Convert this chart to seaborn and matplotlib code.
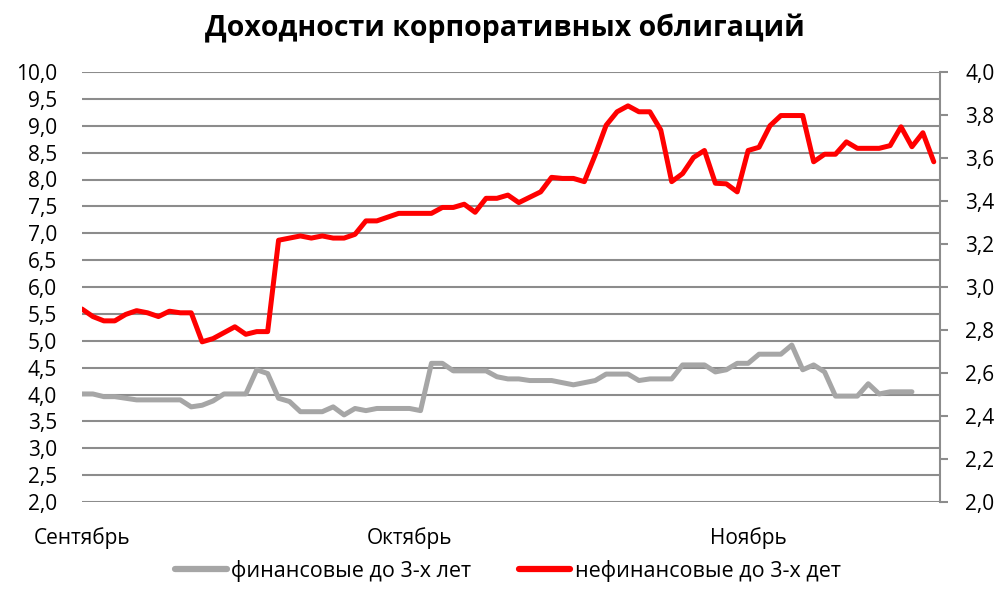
import matplotlib
matplotlib.use("Agg")
import matplotlib.pyplot as plt
import seaborn as sns
import pandas as pd
import numpy as np
from matplotlib.lines import Line2D

# ---- data ----
month_ticks = [0, 30, 61]
month_labels = ["Сентябрь", "Октябрь", "Ноябрь"]

fin_label = "финансовые до 3-х лет"
nonfin_label = "нефинансовые до 3-х дет"

fin_values = [4.01, 4.01, 3.96, 3.96, 3.93, 3.90, 3.90, 3.90, 3.90, 3.90,
              3.77, 3.80, 3.88, 4.01, 4.01, 4.01, 4.46, 4.39, 3.93, 3.87,
              3.68, 3.68, 3.68, 3.77, 3.62, 3.74, 3.70, 3.74, 3.74, 3.74,
              3.74, 3.70, 4.58, 4.58, 4.44, 4.44, 4.44, 4.44, 4.33, 4.29,
              4.29, 4.26, 4.26, 4.26, 4.22, 4.18, 4.22, 4.26, 4.38, 4.38,
              4.38, 4.26, 4.29, 4.29, 4.29, 4.55, 4.55, 4.55, 4.42, 4.46,
              4.58, 4.58, 4.75, 4.75, 4.75, 4.92, 4.46, 4.55, 4.42, 3.97,
              3.97, 3.97, 4.20, 4.01, 4.05, 4.05, 4.05]

nonfin_values = [5.59, 5.45, 5.37, 5.37, 5.49, 5.56, 5.52, 5.45, 5.55, 5.52,
                 5.52, 4.98, 5.04, 5.15, 5.26, 5.12, 5.17, 5.17, 6.87, 6.91,
                 6.95, 6.91, 6.95, 6.91, 6.91, 6.98, 7.23, 7.23, 7.30, 7.37,
                 7.37, 7.37, 7.37, 7.48, 7.48, 7.54, 7.39, 7.65, 7.65, 7.71,
                 7.57, 7.67, 7.77, 8.04, 8.02, 8.02, 7.96, 8.46, 9.01, 9.26,
                 9.37, 9.26, 9.26, 8.92, 7.96, 8.11, 8.41, 8.54, 7.93, 7.92,
                 7.77, 8.54, 8.60, 9.00, 9.19, 9.19, 9.19, 8.33, 8.47, 8.47,
                 8.70, 8.58, 8.58, 8.58, 8.63, 8.98, 8.61, 8.87, 8.33]

left_ticks = [2.0, 2.5, 3.0, 3.5, 4.0, 4.5, 5.0, 5.5, 6.0, 6.5, 7.0, 7.5, 8.0, 8.5, 9.0, 9.5, 10.0]
right_ticks = [2.0, 2.2, 2.4, 2.6, 2.8, 3.0, 3.2, 3.4, 3.6, 3.8, 4.0]

df = pd.concat([
    pd.DataFrame({"day": np.arange(len(fin_values)), "value": fin_values, "series": fin_label}),
    pd.DataFrame({"day": np.arange(len(nonfin_values)), "value": nonfin_values, "series": nonfin_label}),
], ignore_index=True)

sns.set_theme(style="white")
plt.rcParams["font.family"] = ["Open Sans", "DejaVu Sans"]
plt.rcParams["text.color"] = "#000000"

fig = plt.figure(figsize=(9.99, 5.97), dpi=100)
ax = fig.add_axes([82 / 999, 1 - 502 / 597, (940 - 82) / 999, (502 - 72) / 597])

sns.lineplot(data=df, x="day", y="value", hue="series",
             palette={fin_label: "#a6a6a6", nonfin_label: "#ff0000"},
             linewidth=3.6, ax=ax, legend=False, zorder=3)

def fmt(v):
    return f"{v:.1f}".replace(".", ",")

ax.set_xlim(0, 78.57)
ax.set_ylim(2.0, 10.0)
ax.set_yticks(left_ticks)
ax.set_yticklabels([fmt(v) for v in left_ticks])
ax.set_xticks(month_ticks)
ax.set_xticklabels(month_labels)
ax.set_xlabel("")
ax.set_ylabel("")
ax.grid(axis="y", color="#8c8c8c", linewidth=1.5, zorder=0)
ax.grid(axis="x", visible=False)
for s in ["left", "top", "bottom", "right"]:
    ax.spines[s].set_visible(False)
ax.tick_params(axis="y", length=0, pad=18, labelsize=15, colors="#000000")
ax.tick_params(axis="x", length=0, pad=18, labelsize=15, colors="#000000")

ax2 = ax.twinx()
ax2.set_ylim(2.0, 4.0)
ax2.set_yticks(right_ticks)
ax2.set_yticklabels([fmt(v) for v in right_ticks])
for s in ["left", "top", "bottom"]:
    ax2.spines[s].set_visible(False)
ax2.spines["right"].set_visible(True)
ax2.spines["right"].set_color("#8c8c8c")
ax2.spines["right"].set_linewidth(1.5)
ax2.tick_params(axis="y", length=6, width=1.5, color="#8c8c8c", pad=12, labelsize=15,
                labelcolor="#000000", direction="out", right=True)
ax2.grid(False)

fig.text(505 / 999, 1 - 28 / 597, "Доходности корпоративных облигаций",
         ha="center", va="center", fontsize=20.5, fontweight="bold", color="#000000")

handles = [Line2D([], [], color="#a6a6a6", linewidth=4.5),
           Line2D([], [], color="#ff0000", linewidth=4.5)]
fig.legend(handles, [fin_label, nonfin_label], loc="center",
           bbox_to_anchor=(508 / 999, 1 - 571 / 597), ncol=2, frameon=False,
           fontsize=15.5, labelcolor="#000000",
           handlelength=2.4, handletextpad=0.2, columnspacing=2.2)

fig.savefig("out.png", dpi=100, facecolor="white")
